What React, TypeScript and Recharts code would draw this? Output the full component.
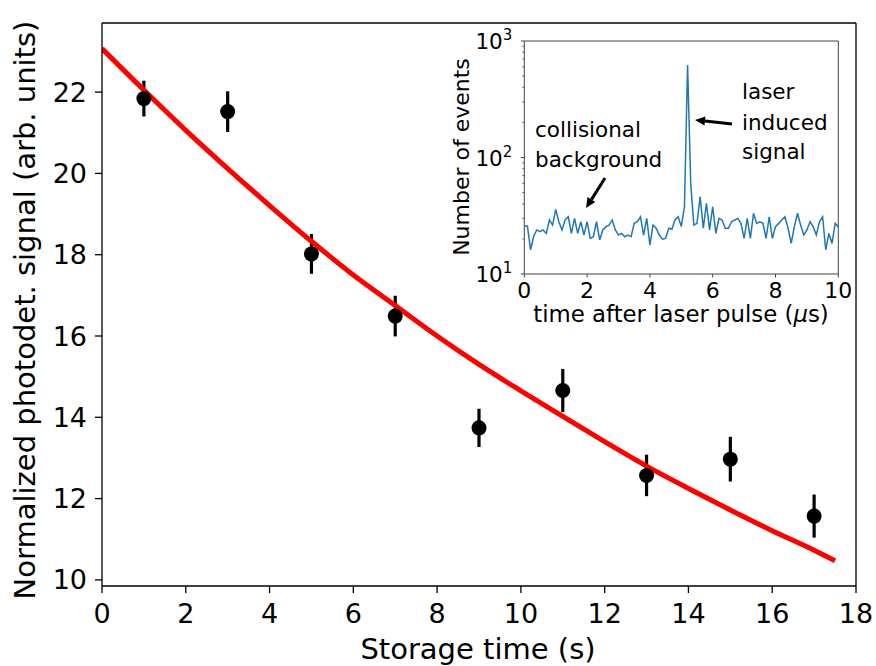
import { ComposedChart, LineChart, Line, Scatter, ErrorBar, XAxis, YAxis, ReferenceLine } from "recharts";

const FONT = "'DejaVu Sans', sans-serif";

// main panel: photodetector signal vs storage time
const storageTime = [1, 3, 5, 7, 9, 11, 13, 15, 17];
const signal = [21.84, 21.52, 18.02, 16.49, 13.74, 14.66, 12.57, 12.97, 11.57];
const signalErr = [0.44, 0.5, 0.49, 0.5, 0.47, 0.53, 0.51, 0.55, 0.53];

// fitted decay curve
const fitTime = [0, 1, 2, 3, 4, 5, 6, 7, 8, 9, 10, 11, 12, 13, 14, 15, 16, 17, 17.5];
const fitSignal = [
  23.07, 22.05, 21.06, 20.12, 19.21, 18.33, 17.5, 16.75, 16.0, 15.3, 14.65, 14.02, 13.4,
  12.8, 12.25, 11.72, 11.21, 10.73, 10.47
];

// inset: histogram of events after the laser pulse (0.1 us bins)
const eventCounts = [
  25.8, 25.8, 16.1, 21.2, 23.9, 23.1, 23.9, 22.3, 29.1, 26.3,
  35.9, 28.1, 23.9, 29.1, 31.0, 22.3, 30.0, 22.3, 28.1, 21.6,
  28.1, 20.2, 20.9, 28.1, 19.6, 23.9, 25.5, 26.3, 29.1, 23.9,
  21.6, 22.3, 20.9, 21.6, 20.9, 27.2, 28.1, 31.0, 21.6, 30.0,
  17.7, 26.3, 24.7, 21.6, 19.9, 20.2, 24.7, 24.2, 29.1, 31.0,
  25.5, 37.8, 622, 60.0, 26.3, 27.2, 46.1, 24.7, 40.4, 23.9,
  37.8, 22.3, 30.0, 29.1, 24.7, 24.7, 28.1, 29.1, 30.0, 27.2,
  20.2, 30.0, 20.2, 33.2, 27.2, 28.1, 27.2, 20.2, 31.0, 20.2,
  25.5, 27.2, 29.1, 31.0, 24.7, 18.3, 25.5, 33.2, 26.3, 21.6,
  23.9, 28.1, 25.5, 21.6, 28.1, 31.0, 16.1, 22.3, 18.3, 27.2,
  25.5
];
const pulseTime = eventCounts.map((_, i) => i / 10);

const mainXTicks = [0, 2, 4, 6, 8, 10, 12, 14, 16, 18];
const mainYTicks = [10, 12, 14, 16, 18, 20, 22];
const insetXTicks = [0, 2, 4, 6, 8, 10];
const insetYTicks = [
  10, 20, 30, 40, 50, 60, 70, 80, 90,
  100, 200, 300, 400, 500, 600, 700, 800, 900, 1000
];

const points = storageTime.map((t, i) => ({ t, signal: signal[i], err: signalErr[i] }));
const fit = fitTime.map((t, i) => ({ t, fit: fitSignal[i] }));
const inset = pulseTime.map((t, i) => ({ t, count: eventCounts[i] }));

const Dot = (p: any) => <circle cx={p.cx} cy={p.cy} r={7.5} fill="#000" />;

function InsetYTick({ x, y, payload }: any) {
  const p = Math.log10(payload.value);
  const major = Math.abs(p - Math.round(p)) < 1e-6;
  return (
    <g>
      <line
        x1={x - (major ? 3.5 : 2)}
        x2={x}
        y1={y}
        y2={y}
        stroke="#444"
        strokeWidth={major ? 1 : 0.8}
      />
      {major && (
        <text x={x - 12} y={y + 8} textAnchor="end" fontSize={21.5} fontFamily={FONT} fill="#000">
          10
          <tspan dy={-9} fontSize={15}>
            {Math.round(p)}
          </tspan>
        </text>
      )}
    </g>
  );
}

const mainTick = { fill: "#000", fontSize: 27, fontFamily: FONT };
const insetTick = { fill: "#000", fontSize: 22, fontFamily: FONT };

export default function App() {
  return (
    <div style={{ position: "absolute", left: 0, top: 0, width: 876, height: 666, background: "#fff" }}>
      <ComposedChart width={876} height={666} margin={{ top: 23, right: 20, bottom: 0, left: 0 }}>
        <XAxis
          type="number"
          dataKey="t"
          domain={[0, 18]}
          ticks={mainXTicks}
          allowDataOverflow
          height={80}
          tick={mainTick}
          tickSize={7}
          tickMargin={11}
          axisLine={{ stroke: "#000", strokeWidth: 1.3 }}
          tickLine={{ stroke: "#000", strokeWidth: 1.3 }}
        />
        <YAxis
          type="number"
          domain={[9.85, 23.7]}
          ticks={mainYTicks}
          allowDataOverflow
          width={102}
          tick={mainTick}
          tickSize={7}
          tickMargin={8}
          axisLine={{ stroke: "#000", strokeWidth: 1.3 }}
          tickLine={{ stroke: "#000", strokeWidth: 1.3 }}
        />
        <ReferenceLine y={23.7} stroke="#000" strokeWidth={1.3} ifOverflow="visible" />
        <ReferenceLine x={18} stroke="#000" strokeWidth={1.3} ifOverflow="visible" />
        <Scatter data={points} dataKey="signal" shape={Dot} isAnimationActive={false}>
          <ErrorBar dataKey="err" direction="y" width={0} stroke="#000" strokeWidth={3.2} isAnimationActive={false} />
        </Scatter>
        <Line
          data={fit}
          dataKey="fit"
          type="monotone"
          stroke="#ff0000"
          strokeWidth={5}
          dot={false}
          activeDot={false}
          isAnimationActive={false}
        />
      </ComposedChart>

      <div style={{ position: "absolute", left: 440, top: 20, width: 420, height: 320 }}>
        <LineChart width={420} height={320} data={inset} margin={{ top: 21, right: 21.7, bottom: 0, left: 0 }}>
          <XAxis
            type="number"
            dataKey="t"
            domain={[0, 10]}
            ticks={insetXTicks}
            height={66}
            tick={insetTick}
            tickSize={3.5}
            tickMargin={5}
            axisLine={{ stroke: "#444" }}
            tickLine={{ stroke: "#444" }}
          />
          <YAxis
            scale="log"
            type="number"
            domain={[10, 1000]}
            ticks={insetYTicks}
            allowDataOverflow
            width={84.3}
            tick={<InsetYTick />}
            tickLine={false}
            tickSize={0}
            tickMargin={0}
            interval={0}
            axisLine={{ stroke: "#444" }}
          />
          <ReferenceLine y={1000} stroke="#444" ifOverflow="visible" />
          <ReferenceLine x={10} stroke="#444" ifOverflow="visible" />
          <Line dataKey="count" type="linear" stroke="#1f77b4" strokeWidth={1.5} dot={false} activeDot={false} isAnimationActive={false} />
        </LineChart>
      </div>

      <svg width={876} height={666} style={{ position: "absolute", left: 0, top: 0, pointerEvents: "none" }} fontFamily={FONT}>
        <text x={478} y={659} textAnchor="middle" fontSize={29} fill="#000">
          Storage time (s)
        </text>
        <text x={35} y={310} textAnchor="middle" fontSize={29} fill="#000" transform="rotate(-90 35 310)">
          Normalized photodet. signal (arb. units)
        </text>

        <text x={681} y={322} textAnchor="middle" fontSize={22.8} fill="#000">
          time after laser pulse (<tspan fontStyle="italic">μ</tspan>s)
        </text>
        <text x={469} y={157} textAnchor="middle" fontSize={22} fill="#000" transform="rotate(-90 469 157)">
          Number of events
        </text>

        <text x={535} y={137} fontSize={21.5} fill="#000">collisional</text>
        <text x={535} y={167} fontSize={21.5} fill="#000">background</text>
        <text x={742} y={99} fontSize={21.5} fill="#000">laser</text>
        <text x={742} y={130} fontSize={21.5} fill="#000">induced</text>
        <text x={742} y={159} fontSize={21.5} fill="#000">signal</text>

        <line x1={605} y1={178} x2={591.4} y2={199.6} stroke="#000" strokeWidth={3} />
        <polygon points="586,208 595.2,202 587.5,197.1" fill="#000" />
        <line x1={732} y1={124} x2={704.9} y2={121.1} stroke="#000" strokeWidth={3} />
        <polygon points="695,120 705.4,116.6 704.5,125.6" fill="#000" />
      </svg>
    </div>
  );
}
